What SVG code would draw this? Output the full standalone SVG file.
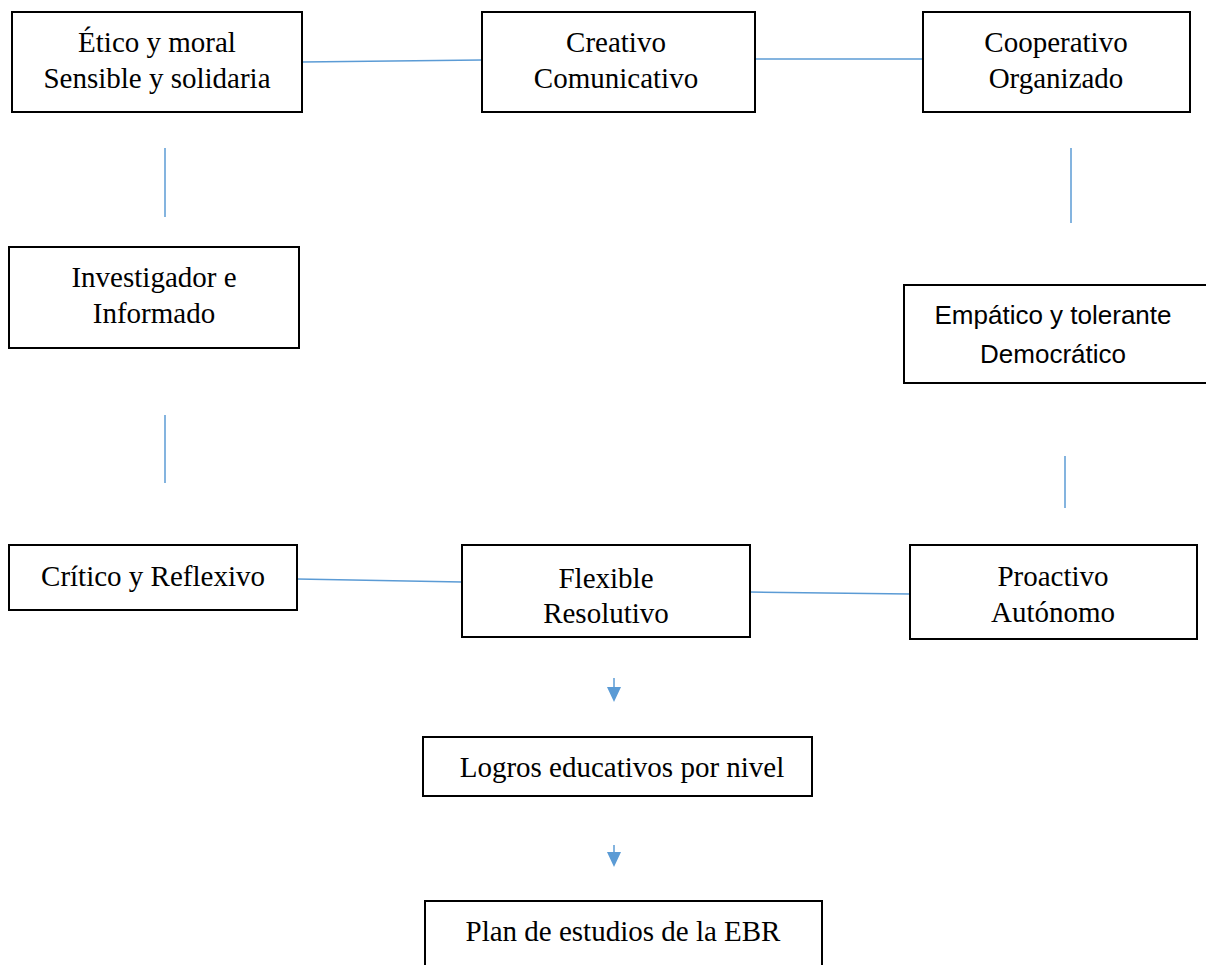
<svg xmlns="http://www.w3.org/2000/svg" width="1206" height="965" viewBox="0 0 1206 965">
<defs>
<style>
.box{fill:#fff;stroke:#000;stroke-width:2}
.t{font-family:"Liberation Serif","Times New Roman",serif;font-size:29px;fill:#000;text-anchor:middle}
.s{font-family:"Liberation Sans",Arial,sans-serif;font-size:26px;fill:#000;text-anchor:middle}
.c{stroke:#5B9BD5;stroke-width:1.5;fill:none}
.ah{fill:#5B9BD5}
</style>
</defs>
<rect width="1206" height="965" fill="#fff"/>
<g id="connectors">
<line class="c" x1="302" y1="62" x2="482" y2="60"/>
<line class="c" x1="755" y1="59" x2="923" y2="59"/>
<line class="c" x1="165" y1="148" x2="165" y2="217"/>
<line class="c" x1="165" y1="415" x2="165" y2="483"/>
<line class="c" x1="1071" y1="148" x2="1071" y2="223"/>
<line class="c" x1="1065" y1="456" x2="1065" y2="508"/>
<line class="c" x1="297" y1="579" x2="462" y2="582"/>
<line class="c" x1="750" y1="592" x2="910" y2="594"/>
<line class="c" x1="614" y1="678" x2="614" y2="690"/>
<polygon class="ah" points="607,687 621,687 614,702"/>
<line class="c" x1="614" y1="845" x2="614" y2="855"/>
<polygon class="ah" points="607,852 621,852 614,867"/>
</g>
<g id="n-etico">
<rect class="box" x="12" y="12" width="290" height="100"/>
<text class="t" x="157" y="52">Ético y moral</text>
<text class="t" x="157" y="88">Sensible y solidaria</text>
</g>
<g id="n-creativo">
<rect class="box" x="482" y="12" width="273" height="100"/>
<text class="t" x="616" y="52">Creativo</text>
<text class="t" x="616" y="88">Comunicativo</text>
</g>
<g id="n-cooperativo">
<rect class="box" x="923" y="12" width="267" height="100"/>
<text class="t" x="1056" y="52">Cooperativo</text>
<text class="t" x="1056" y="88">Organizado</text>
</g>
<g id="n-investigador">
<rect class="box" x="9" y="247" width="290" height="101"/>
<text class="t" x="154" y="287">Investigador e</text>
<text class="t" x="154" y="323">Informado</text>
</g>
<g id="n-empatico">
<rect class="box" x="904" y="285" width="310" height="98"/>
<text class="s" x="1053" y="324">Empático y tolerante</text>
<text class="s" x="1053" y="363">Democrático</text>
</g>
<g id="n-critico">
<rect class="box" x="9" y="545" width="288" height="65"/>
<text class="t" x="153" y="586">Crítico y Reflexivo</text>
</g>
<g id="n-flexible">
<rect class="box" x="462" y="545" width="288" height="92"/>
<text class="t" x="606" y="588">Flexible</text>
<text class="t" x="606" y="623">Resolutivo</text>
</g>
<g id="n-proactivo">
<rect class="box" x="910" y="545" width="287" height="94"/>
<text class="t" x="1053" y="586">Proactivo</text>
<text class="t" x="1053" y="622">Autónomo</text>
</g>
<g id="n-logros">
<rect class="box" x="423" y="737" width="389" height="59"/>
<text class="t" x="622" y="777">Logros educativos por nivel</text>
</g>
<g id="n-plan">
<rect class="box" x="425" y="901" width="397" height="80"/>
<text class="t" x="623" y="941">Plan de estudios de la EBR</text>
</g>
</svg>
